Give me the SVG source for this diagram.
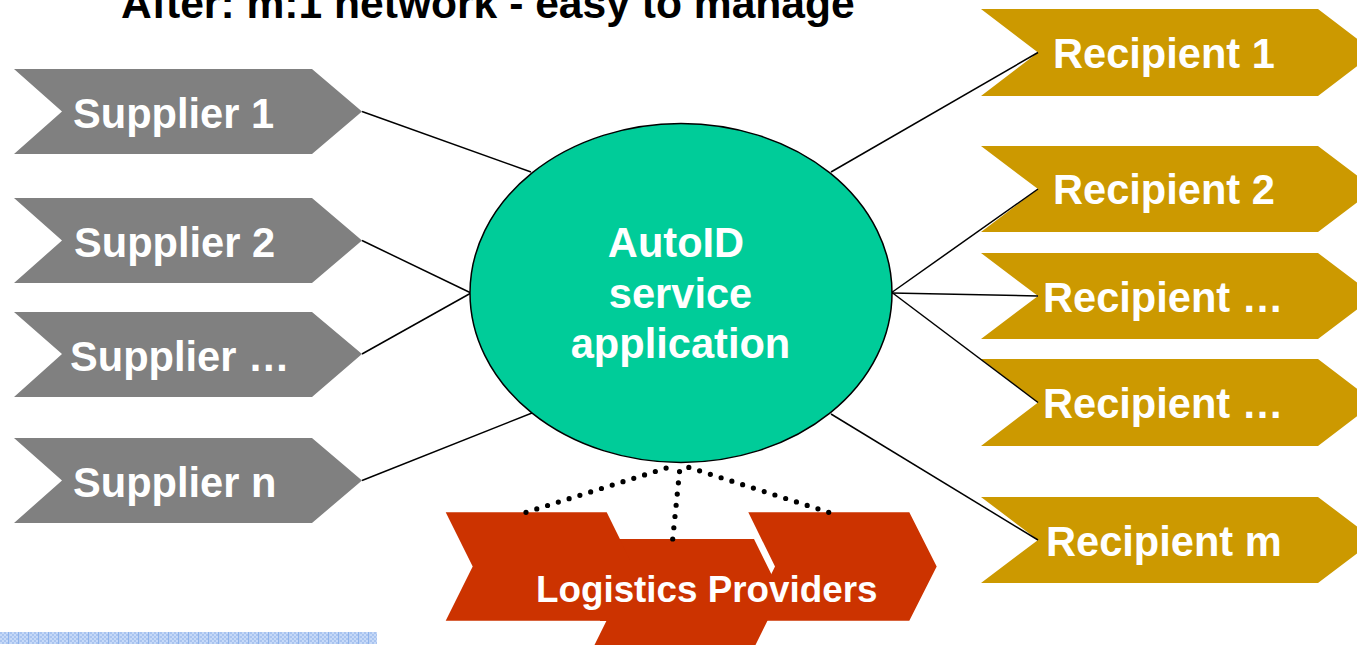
<svg xmlns="http://www.w3.org/2000/svg" width="1357" height="645" viewBox="0 0 1357 645">
  <style>
    .lbl { font-family: "Liberation Sans", Arial, Helvetica, sans-serif; font-weight: bold; fill: #ffffff; }
    .title { font-family: "Liberation Sans", Arial, Helvetica, sans-serif; font-weight: bold; font-size: 42.6px; fill: #000000; }
    .supplier { fill: #808080; }
    .recipient { fill: #CC9900; }
    .logistics { fill: #CC3300; }
    .link { stroke: #000000; stroke-width: 1.5; fill: none; }
    .dots { stroke: #000000; stroke-width: 5.2; fill: none; stroke-linecap: round; stroke-dasharray: 0 11.3; }
  </style>
  <defs>
    <pattern id="grid" x="0" y="0" width="10" height="4" patternUnits="userSpaceOnUse">
      <rect width="10" height="4" fill="#C6D9F7"/>
      <rect x="0" y="0" width="2" height="2" fill="#A9C4F0"/>
      <rect x="4" y="0" width="2" height="2" fill="#A9C4F0"/>
      <rect x="2" y="2" width="2" height="2" fill="#A9C4F0"/>
      <rect x="6" y="2" width="2" height="2" fill="#A9C4F0"/>
      <rect x="8" y="0" width="1.2" height="4" fill="#8EB2EC"/>
    </pattern>
  </defs>

  <rect width="1357" height="645" fill="#ffffff"/>

  <text class="title" x="121" y="17.5">After: m:1 network - easy to manage</text>

  <!-- suppliers -->
  <g id="supplier-1">
    <polygon class="supplier" points="14,69 312,69 362,111.5 312,154 14,154 62,111.5"/>
    <text class="lbl" x="73" y="128" font-size="41.6">Supplier 1</text>
  </g>
  <g id="supplier-2">
    <polygon class="supplier" points="14,198 312,198 362,240.5 312,283 14,283 62,240.5"/>
    <text class="lbl" x="74" y="257" font-size="41.6">Supplier 2</text>
  </g>
  <g id="supplier-etc">
    <polygon class="supplier" points="14,312 312,312 362,354 312,397 14,397 62,354"/>
    <text class="lbl" x="70" y="371" font-size="41.6">Supplier …</text>
  </g>
  <g id="supplier-n">
    <polygon class="supplier" points="14,438 312,438 362,480.5 312,523 14,523 62,480.5"/>
    <text class="lbl" x="73" y="497" font-size="41.6">Supplier n</text>
  </g>

  <!-- recipients -->
  <g id="recipient-1">
    <polygon class="recipient" points="981,9 1318,9 1375,52.5 1318,96 981,96 1038,52.5"/>
    <text class="lbl" x="1053" y="68" font-size="41.6">Recipient 1</text>
  </g>
  <g id="recipient-2">
    <polygon class="recipient" points="981,146 1318,146 1375,189 1318,232 981,232 1038,189"/>
    <text class="lbl" x="1053" y="204" font-size="41.6">Recipient 2</text>
  </g>
  <g id="recipient-etc-1">
    <polygon class="recipient" points="981,253 1318,253 1375,296 1318,339 981,339 1038,296"/>
    <text class="lbl" x="1043" y="312" font-size="41.6">Recipient …</text>
  </g>
  <g id="recipient-etc-2">
    <polygon class="recipient" points="981,359 1318,359 1375,402.5 1318,446 981,446 1038,402.5"/>
    <text class="lbl" x="1043" y="418" font-size="41.6">Recipient …</text>
  </g>
  <g id="recipient-m">
    <polygon class="recipient" points="981,497 1318,497 1375,540 1318,583 981,583 1038,540"/>
    <text class="lbl" x="1046" y="556" font-size="41.6">Recipient m</text>
  </g>

  <!-- logistics providers: three overlapping chevrons -->
  <g id="logistics-providers">
    <polygon class="logistics" points="593,539 754,539 781,593.5 754,648 593,648 620,593.5"/>
    <polygon class="logistics" points="445.7,512.3 606.7,512.3 633.5,566.5 606.7,620.7 445.7,620.7 472.7,566.5"/>
    <polygon class="logistics" points="748.3,512.3 909.3,512.3 936.7,566.5 909.3,620.7 748.3,620.7 775,566.5"/>
    <polygon class="logistics" points="600,560 760,560 760,621 600,621"/>
    <text class="lbl" x="536" y="602" font-size="36.8">Logistics Providers</text>
  </g>

  <!-- connectors -->
  <g id="connectors">
    <line class="link" x1="362" y1="111.5" x2="531" y2="172"/>
    <line class="link" x1="362" y1="240.5" x2="471" y2="293"/>
    <line class="link" x1="362" y1="354" x2="471" y2="293"/>
    <line class="link" x1="362" y1="480.5" x2="532" y2="413"/>
    <line class="link" x1="831" y1="172" x2="1038" y2="52.5"/>
    <line class="link" x1="891" y1="293" x2="1038" y2="189"/>
    <line class="link" x1="891" y1="293" x2="1038" y2="296"/>
    <line class="link" x1="890" y1="291" x2="1038" y2="402.5"/>
    <line class="link" x1="831" y1="414" x2="1038" y2="540"/>
    <line class="dots" x1="526" y1="512.3" x2="676" y2="465"/>
    <line class="dots" x1="672.7" y1="539" x2="680" y2="467"/>
    <line class="dots" x1="828.7" y1="512.3" x2="683" y2="465.5"/>
  </g>

  <!-- central service -->
  <g id="autoid-service">
    <ellipse cx="681" cy="293" rx="211" ry="169.5" fill="#00CC99" stroke="#000000" stroke-width="1.5"/>
    <text class="lbl" x="676" y="257" font-size="41.6" text-anchor="middle">AutoID</text>
    <text class="lbl" x="680.5" y="308" font-size="41.6" text-anchor="middle">service</text>
    <text class="lbl" x="680.5" y="358" font-size="41.6" text-anchor="middle">application</text>
  </g>

  <!-- footer strip -->
  <rect x="0" y="632" width="377" height="12" fill="url(#grid)"/>
</svg>
